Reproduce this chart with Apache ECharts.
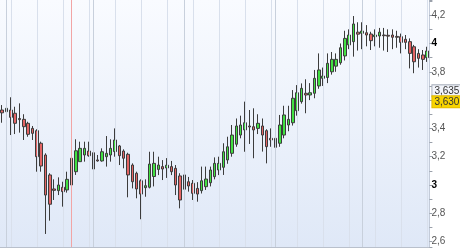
<!DOCTYPE html>
<html>
<head>
<meta charset="utf-8">
<script src="https://cdn.jsdelivr.net/npm/echarts@6/dist/echarts.min.js"></script>
<style>
html,body{margin:0;padding:0;background:#fff;}
#c{width:460px;height:250px;}
</style>
</head>
<body>
<div id="c"></div>
<script>
// Daily candles: open, close, low, high
const opens  = [3.53,3.518,3.53,3.507,3.47,3.464,3.436,3.40,3.384,3.295,3.212,3.071,2.972,2.96,2.984,2.965,3.0,3.094,3.165,3.212,3.24,3.228,3.177,3.17,3.20,
  3.212,3.236,3.276,3.24,3.217,3.141,3.083,3.03,2.981,2.984,3.06,3.11,3.13,3.12,3.13,3.118,3.064,2.97,3.023,3.012,2.976,2.96,2.988,
  3.016,3.059,3.106,3.125,3.177,3.224,3.288,3.353,3.389,3.417,3.412,3.40,3.417,3.384,3.33,3.33,3.295,3.353,3.424,3.44,3.525,3.589,3.648,3.636,
  3.648,3.70,3.754,3.76,3.80,3.84,3.864,3.912,3.99,4.013,4.08,4.072,4.076,4.067,4.048,4.053,4.06,4.058,4.06,4.05,4.048,4.03,4.013,3.977,3.93,3.919,3.90];
const closes = [3.51,3.542,3.478,3.436,3.462,3.412,3.358,3.365,3.20,3.134,2.929,2.864,2.962,3.0,2.953,3.04,3.189,3.242,3.259,3.259,3.207,3.113,3.17,3.235,3.224,
  3.259,3.318,3.207,3.189,3.071,3.023,2.972,2.936,2.995,3.148,3.153,3.141,3.113,3.14,3.094,3.0,2.894,3.071,2.993,2.941,2.936,3.03,3.042,
  3.106,3.153,3.153,3.235,3.27,3.353,3.417,3.424,3.44,3.41,3.389,3.436,3.353,3.271,3.318,3.266,3.424,3.495,3.464,3.613,3.652,3.683,3.636,3.652,
  3.754,3.813,3.77,3.86,3.888,3.888,3.97,4.036,4.06,4.138,4.066,4.088,4.06,4.02,4.06,4.08,4.055,4.052,4.044,4.044,4.008,4.008,3.93,3.871,3.895,3.888,3.947];
const lows   = [3.44,3.488,3.353,3.36,3.37,3.318,3.341,3.318,3.094,3.094,2.654,2.748,2.894,2.929,2.847,2.946,2.988,3.071,3.165,3.165,3.2,3.023,3.165,3.165,3.13,
  3.165,3.20,3.141,3.118,2.913,2.976,2.906,2.758,2.917,2.976,2.99,3.07,3.035,3.05,3.07,2.929,2.835,2.941,2.953,2.894,2.882,2.94,2.965,
  2.99,3.04,3.07,3.071,3.15,3.2,3.27,3.33,3.235,3.29,3.189,3.36,3.236,3.153,3.27,3.118,3.27,3.33,3.38,3.42,3.49,3.575,3.507,3.6,
  3.613,3.68,3.7,3.72,3.78,3.8,3.85,3.88,3.96,3.907,3.95,3.96,3.98,3.954,3.98,3.97,3.95,3.94,3.96,3.97,3.93,3.96,3.824,3.79,3.83,3.813,3.87];
const highs  = [3.565,3.629,3.62,3.553,3.577,3.50,3.447,3.417,3.394,3.306,3.224,3.083,3.04,3.054,3.023,3.094,3.224,3.323,3.306,3.306,3.306,3.259,3.212,3.259,3.346,
  3.323,3.40,3.283,3.252,3.228,3.153,3.094,3.04,3.04,3.235,3.235,3.2,3.176,3.19,3.17,3.141,3.083,3.141,3.057,3.035,3.02,3.13,3.13,
  3.13,3.195,3.2,3.295,3.341,3.424,3.47,3.49,3.589,3.53,3.542,3.5,3.47,3.394,3.4,3.341,3.495,3.56,3.56,3.671,3.706,3.718,3.747,3.72,
  3.813,3.93,3.83,3.93,3.94,3.93,4.0,4.09,4.1,4.194,4.15,4.15,4.13,4.083,4.1,4.11,4.11,4.1,4.1,4.09,4.07,4.06,4.036,3.99,3.96,3.954,3.977];

// Vertical grid lines (candle indices)
const weekLines  = [2,8,14,20,26,32,38,44,50,56,62,68,74,80,86,92,98];
const monthLines = [1,21,42,63,83];
const markerLine = [16];
// Price labels on the axis
const priceLabels = [3.635, 3.630];

const categories = opens.map((_, i) => String(i + 1));
const candleData = opens.map((o, i) => [o, closes[i], lows[i], highs[i]]);

const fmt = v => v.toFixed(3).replace('.', ',');
const FONT = 'Liberation Sans, Arial, sans-serif';

const chart = echarts.init(document.getElementById('c'), null, {renderer: 'canvas'});
chart.setOption({
  animation: false,
  backgroundColor: '#ffffff',
  grid: {
    left: 0, right: 30.6, top: 0, bottom: 3,
    show: true, borderWidth: 0,
    backgroundColor: new echarts.graphic.LinearGradient(0, 0, 0, 1, [
      {offset: 0, color: '#f9fbff'},
      {offset: 1, color: '#dfe8f7'}
    ])
  },
  xAxis: {
    type: 'category',
    data: categories,
    boundaryGap: true,
    axisLine: {show: true, lineStyle: {color: '#b9c0cc', width: 1}},
    axisTick: {show: false},
    axisLabel: {show: false},
    splitLine: {show: false}
  },
  yAxis: {
    type: 'value',
    position: 'right',
    min: 2.5618,
    max: 4.3074,
    splitNumber: 8,
    scale: true,
    axisLine: {show: true, lineStyle: {color: '#c3cbd9'}},
    axisTick: {show: true, length: 3, lineStyle: {color: '#9aa0aa'}},
    minorTick: {show: true, splitNumber: 2, length: 3, lineStyle: {color: '#9aa0aa'}},
    splitLine: {show: false},
    axisLabel: {
      margin: 2,
      showMinLabel: false,
      showMaxLabel: false,
      fontFamily: FONT,
      fontSize: 10,
      color: '#555',
      formatter: function (v) {
        const r = Math.round(v * 10) / 10;
        if (Math.abs(v - r) > 1e-6 || Math.round(r * 10) % 2 !== 0) return '';
        if (Math.abs(r - Math.round(r)) < 1e-6) return '{b|' + Math.round(r) + '}';
        return r.toFixed(1).replace('.', ',');
      },
      rich: {b: {fontWeight: 'bold', color: '#000', fontSize: 10, fontFamily: FONT}}
    }
  },
  series: [
    {
      type: 'line',
      data: [],
      silent: true,
      z: 1,
      markLine: {
        silent: true,
        symbol: 'none',
        animation: false,
        label: {show: false},
        data: [
          ...weekLines.map(i => ({xAxis: i, lineStyle: {color: '#d9e0ec', width: 1, type: 'solid'}})),
          ...monthLines.map(i => ({xAxis: i, lineStyle: {color: '#c8d0dc', width: 1, type: 'solid'}})),
          ...markerLine.map(i => ({xAxis: i, lineStyle: {color: '#f2a5a5', width: 1, type: 'solid'}}))
        ]
      }
    },
    {
      type: 'candlestick',
      data: candleData,
      barWidth: 3,
      z: 3,
      itemStyle: {
        color: '#42e042',
        color0: '#e46464',
        borderColor: '#3c3c3c',
        borderColor0: '#3c3c3c',
        borderWidth: 1
      }
    },
    {
      type: 'line',
      data: [],
      silent: true,
      z: 10,
      markLine: {
        silent: true,
        symbol: 'none',
        animation: false,
        lineStyle: {color: 'rgba(0,0,0,0)', width: 1, type: 'solid'},
        data: [
          {yAxis: priceLabels[0], label: {show: true, position: 'end', distance: 3, offset: [0, -5],
            formatter: fmt(priceLabels[0]), fontSize: 10, color: '#333', fontFamily: FONT,
            backgroundColor: '#f2f4fa', borderColor: '#a9b0bc', borderWidth: 1, padding: [1, 2, 0, 2]}},
          {yAxis: priceLabels[1], label: {show: true, position: 'end', distance: 3, offset: [0, 6],
            formatter: fmt(priceLabels[1]), fontSize: 10, color: '#333', fontFamily: FONT,
            backgroundColor: '#f8d400', borderColor: '#e0b800', borderWidth: 1, padding: [1, 2, 0, 2]}}
        ]
      }
    }
  ]
});
</script>
</body>
</html>
